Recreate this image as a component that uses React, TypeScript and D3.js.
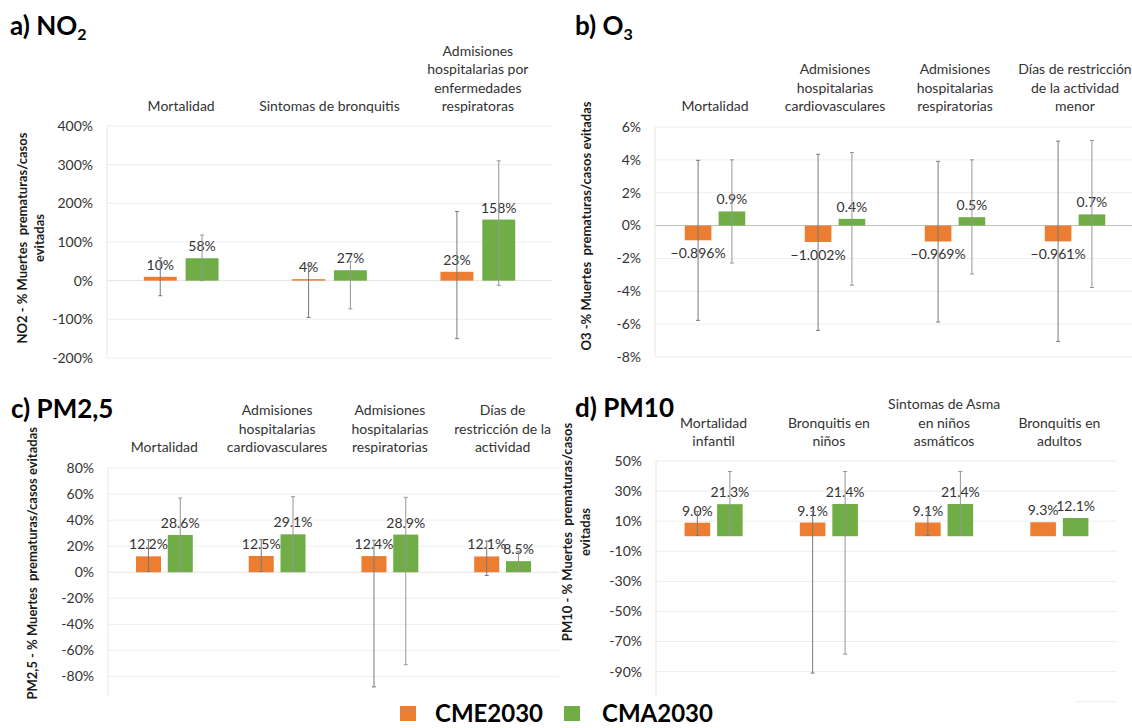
import * as d3 from "d3";
import React from "react";

const FONT = "Lato, 'Open Sans', sans-serif";
const ORANGE = "#ED7D31";
const GREEN = "#70AD47";
const TEXT = "#333333";

// a) NO2
const no2Categories = [
  ["Mortalidad"],
  ["Sintomas de bronquitis"],
  ["Admisiones", "hospitalarias por", "enfermedades", "respiratoras"],
];
const no2Cme = [10, 4, 23];
const no2Cma = [58, 27, 158];
const no2CmeErr = [[-39, 59], [-95, 40], [-150, 179]];
const no2CmaErr = [[0, 118], [-73, 50], [-12, 310]];
const no2Ticks = [400, 300, 200, 100, 0, -100, -200];

// b) O3
const o3Categories = [
  ["Mortalidad"],
  ["Admisiones", "hospitalarias", "cardiovasculares"],
  ["Admisiones", "hospitalarias", "respiratorias"],
  ["Días de restricción", "de la actividad", "menor"],
];
const o3Cme = [-0.896, -1.002, -0.969, -0.961];
const o3Cma = [0.86, 0.41, 0.51, 0.68];
const o3CmeErr = [[-5.77, 3.97], [-6.38, 4.34], [-5.87, 3.91], [-7.05, 5.14]];
const o3CmaErr = [[-2.28, 4.0], [-3.63, 4.45], [-2.95, 4.0], [-3.77, 5.18]];
const o3Ticks = [6, 4, 2, 0, -2, -4, -6, -8];

// c) PM2,5
const pm25Categories = [
  ["Mortalidad"],
  ["Admisiones", "hospitalarias", "cardiovasculares"],
  ["Admisiones", "hospitalarias", "respiratorias"],
  ["Días de", "restricción de la", "actividad"],
];
const pm25Cme = [12.2, 12.5, 12.4, 12.1];
const pm25Cma = [28.6, 29.1, 28.9, 8.5];
const pm25CmeErr = [[0.5, 25], [0.5, 25], [-88, 24.5], [-2.5, 24]];
const pm25CmaErr = [[0.5, 57], [0.5, 58], [-71, 57.5], [0.5, 16]];
const pm25Ticks = [80, 60, 40, 20, 0, -20, -40, -60, -80];

// d) PM10
const pm10Categories = [
  ["Mortalidad", "infantil"],
  ["Bronquitis en", "niños"],
  ["Sintomas de Asma", "en niños", "asmáticos"],
  ["Bronquitis en", "adultos"],
];
const pm10Cme = [9.0, 9.1, 9.1, 9.3];
const pm10Cma = [21.3, 21.4, 21.4, 12.1];
const pm10CmeErr = [[0.5, 16.5], [-91, 16.5], [0.5, 16.5], null];
const pm10CmaErr = [[0.5, 43], [-78.4, 43], [0.5, 43], null];
const pm10Ticks = [50, 30, 10, -10, -30, -50, -70, -90, -110];

const pct = (spec) => (v) => d3.format(spec)(v) + "%";

const LEGEND_TOP = 697;

const panels = [
  {
    title: "a) NO", sub: "2", titleX: 10, titleY: 35,
    cats: no2Categories, cme: no2Cme, cma: no2Cma, cmeErr: no2CmeErr, cmaErr: no2CmaErr,
    ticks: no2Ticks, domain: [-200, 400], cmeFmt: pct(".0f"), cmaFmt: pct(".0f"),
    x0: 107, x1: 552, yTop: 126, yBot: 358, labBase: 111, zeroColor: "#E3E3E3",
    yTitle: ["NO2 - % Muertes  prematuras/casos", "evitadas"], yTitleX: [27, 44], yTitleY: 238, yTitleAnchor: "middle",
  },
  {
    title: "b) O", sub: "3", titleX: 575, titleY: 35,
    cats: o3Categories, cme: o3Cme, cma: o3Cma, cmeErr: o3CmeErr, cmaErr: o3CmaErr,
    ticks: o3Ticks, domain: [-8, 6], cmeFmt: pct(".3f"), cmaFmt: pct(".1f"),
    x0: 655, x1: 1135, yTop: 127, yBot: 357, labBase: 111, zeroColor: "#BFBFBF",
    yTitle: ["O3 -% Muertes  prematuras/casos evitadas"], yTitleX: [591], yTitleY: 226, yTitleAnchor: "middle",
  },
  {
    title: "c) PM2,5", sub: "", titleX: 11, titleY: 418,
    cats: pm25Categories, cme: pm25Cme, cma: pm25Cma, cmeErr: pm25CmeErr, cmaErr: pm25CmaErr,
    ticks: pm25Ticks, domain: [-95, 80], cmeFmt: pct(".1f"), cmaFmt: pct(".1f"),
    x0: 108, x1: 559, yTop: 468, yBot: 696, labBase: 452, zeroColor: "#E3E3E3",
    yTitle: ["PM2,5 - % Muertes  prematuras/casos evitadas"], yTitleX: [37], yTitleY: 427, yTitleAnchor: "end",
  },
  {
    title: "d) PM10", sub: "", titleX: 575, titleY: 417,
    cats: pm10Categories, cme: pm10Cme, cma: pm10Cma, cmeErr: pm10CmeErr, cmaErr: pm10CmaErr,
    ticks: pm10Ticks, domain: [-110, 50], cmeFmt: pct(".1f"), cmaFmt: pct(".1f"),
    x0: 656, x1: 1117, yTop: 461, yBot: 701.7, labBase: 446, zeroColor: "#E3E3E3",
    yTitle: ["PM10 - % Muertes  prematuras/casos", "evitadas"], yTitleX: [572, 590], yTitleY: 532, yTitleAnchor: "middle",
  },
];

const Panel = ({ p }) => {
  const x = d3
    .scaleBand()
    .domain(p.cats.map((_, i) => String(i)))
    .range([p.x0, p.x1]);
  const y = d3.scaleLinear().domain(p.domain).range([p.yBot, p.yTop]);
  const bw = x.bandwidth();
  const barW = bw * 0.222;
  const gap = bw * 0.06;

  const series = [
    { values: p.cme, errs: p.cmeErr, fmt: p.cmeFmt, color: ORANGE, errColor: "#7a7a7a", off: -gap / 2 - barW },
    { values: p.cma, errs: p.cmaErr, fmt: p.cmaFmt, color: GREEN, errColor: "#959595", off: gap / 2 },
  ];

  // tick labels hidden behind the legend box are not drawn
  const labelTicks = p.ticks.filter((t) => y(t) < LEGEND_TOP);

  return (
    <g>
      {/* gridlines */}
      {p.ticks.map((t) => (
        <line key={"g" + t} x1={p.x0} x2={p.x1} y1={y(t)} y2={y(t)}
          stroke={t === 0 ? p.zeroColor : "#EDEDED"} strokeWidth={1} />
      ))}
      <line x1={p.x0} x2={p.x0} y1={p.yTop} y2={p.yBot} stroke="#E6E6E6" />

      {/* bars */}
      {series.map((s, si) =>
        s.values.map((v, i) => {
          const bx = x(String(i)) + bw / 2 + s.off;
          return (
            <rect key={"b" + si + i} x={bx} width={barW}
              y={Math.min(y(v), y(0))} height={Math.abs(y(v) - y(0))} fill={s.color} />
          );
        })
      )}

      {/* data labels */}
      {series.map((s, si) =>
        s.values.map((v, i) => {
          const cx = x(String(i)) + bw / 2 + s.off + barW / 2;
          return (
            <text key={"l" + si + i} x={cx} y={v >= 0 ? y(v) - 7 : y(v) + 18}
              textAnchor="middle" fontSize={14} fill={TEXT}>
              {s.fmt(v)}
            </text>
          );
        })
      )}

      {/* error bars */}
      {series.map((s, si) =>
        s.errs.map((e, i) => {
          if (!e) return null;
          const cx = x(String(i)) + bw / 2 + s.off + barW / 2;
          return (
            <g key={"e" + si + i} stroke={s.errColor} strokeWidth={1}>
              <line x1={cx} x2={cx} y1={y(e[0])} y2={y(e[1])} />
              <line x1={cx - 2} x2={cx + 2} y1={y(e[0])} y2={y(e[0])} />
              <line x1={cx - 2} x2={cx + 2} y1={y(e[1])} y2={y(e[1])} />
            </g>
          );
        })
      )}

      {/* category labels on top */}
      {p.cats.map((lines, i) => (
        <text key={"c" + i} textAnchor="middle" fontSize={14} fill={TEXT}>
          {lines.map((ln, j) => (
            <tspan key={j} x={x(String(i)) + bw / 2} y={p.labBase - (lines.length - 1 - j) * 18.4}>
              {ln}
            </tspan>
          ))}
        </text>
      ))}

      {/* y ticks */}
      {labelTicks.map((t) => (
        <text key={"t" + t} x={p.x0 - 14} y={y(t)} dy="0.35em" textAnchor="end" fontSize={14} fill={TEXT}>
          {t + "%"}
        </text>
      ))}

      {/* y title */}
      {p.yTitle.map((ln, j) => (
        <text key={"y" + j} transform={`translate(${p.yTitleX[j]},${p.yTitleY}) rotate(-90)`}
          textAnchor={p.yTitleAnchor} fontSize={13} fontWeight="bold" fill="#1a1a1a"
          style={{ whiteSpace: "pre" }}>
          {ln}
        </text>
      ))}

      {/* panel title */}
      <text x={p.titleX} y={p.titleY} fontSize={26} fontWeight="bold" fill="#000">
        {p.title}
        {p.sub && <tspan fontSize={16} dy={5}>{p.sub}</tspan>}
      </text>
    </g>
  );
};

const App = () => {
  return (
    <svg width={1132} height={728} fontFamily={FONT}
      style={{ position: "absolute", left: 0, top: 0, background: "#fff" }}>
      <rect width={1132} height={728} fill="#fff" />
      {panels.map((p, i) => (
        <Panel key={i} p={p} />
      ))}
      {/* legend box covers the bottom of c and d */}
      <g>
        <rect x={385} y={LEGEND_TOP} width={690} height={31} fill="#fff" />
        <rect x={400} y={706} width={16} height={15} fill={ORANGE} />
        <text x={435} y={722} fontSize={24} fontWeight="bold" fill="#000">CME2030</text>
        <rect x={564} y={706} width={16} height={15} fill={GREEN} />
        <text x={602} y={722} fontSize={24} fontWeight="bold" fill="#000">CMA2030</text>
      </g>
    </svg>
  );
};

export default App;
